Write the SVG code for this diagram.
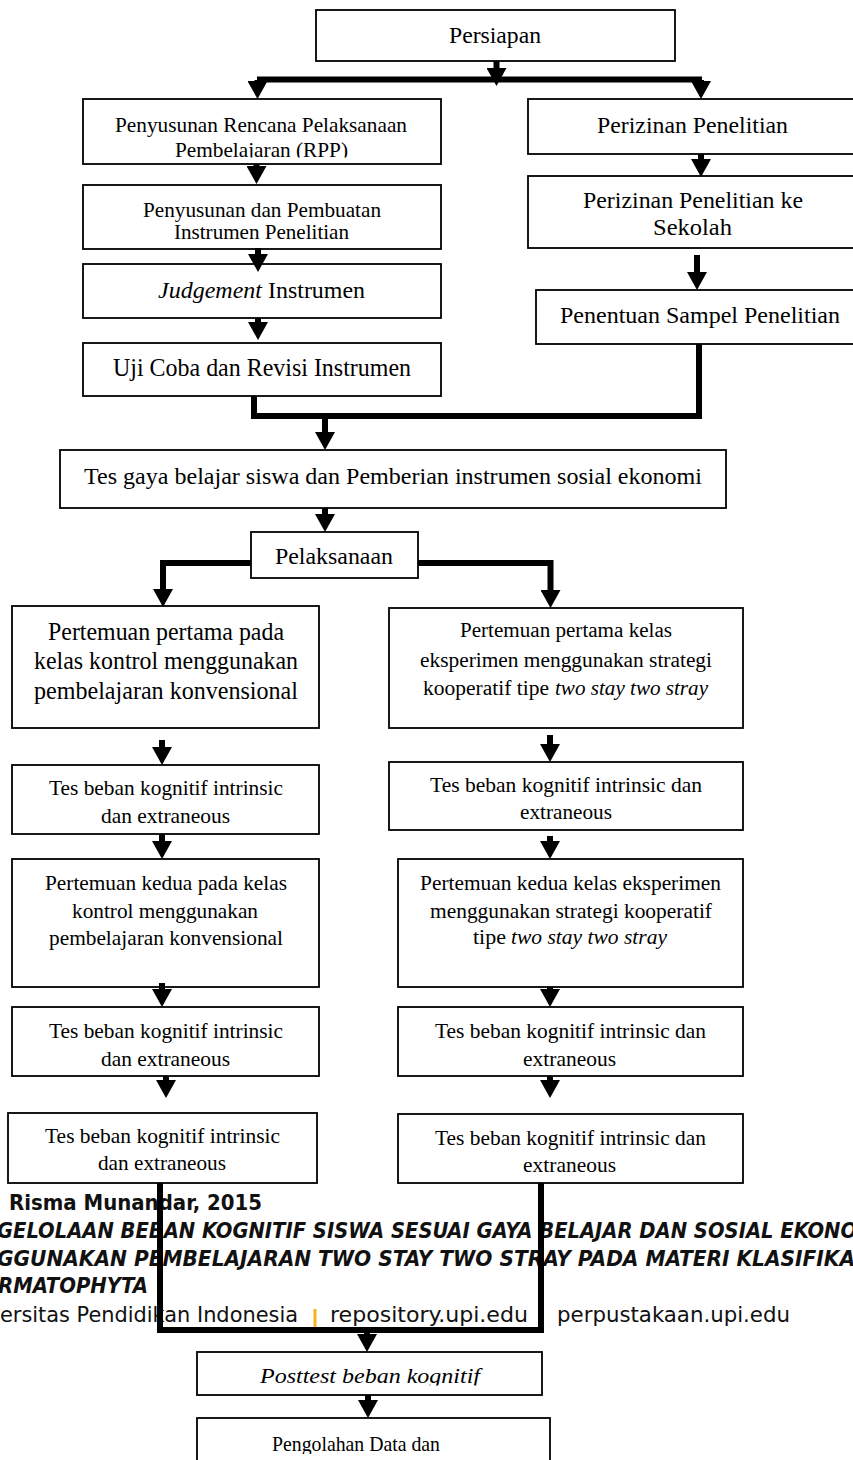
<svg xmlns="http://www.w3.org/2000/svg" width="853" height="1460" viewBox="0 0 853 1460">
<style>
.box{fill:#fff;stroke:#000;stroke-width:1.8}
.t{font-family:"Liberation Serif","Times New Roman",serif;fill:#000}
.it{font-style:italic}
.c{fill:none;stroke:#000;stroke-width:6;stroke-linejoin:miter;stroke-linecap:butt}
.a{marker-end:url(#ah)}
.f{font-family:"DejaVu Sans Condensed","DejaVu Sans",sans-serif;font-stretch:condensed;fill:#111}
.fb{font-weight:bold}
.fi{font-style:italic;font-weight:bold}
</style>
<defs>
<marker id="ah" viewBox="0 0 18 20" markerWidth="18" markerHeight="20" refX="0" refY="10" orient="auto" markerUnits="userSpaceOnUse">
<path d="M0,0 L18,10 L0,20 Z" fill="#000"/>
</marker>
<clipPath id="clipRpp"><rect x="80" y="95" width="365" height="62.5"/></clipPath>
<clipPath id="clipPost"><rect x="190" y="1350" width="360" height="35.5"/></clipPath>
<clipPath id="clipOlah"><rect x="190" y="1415" width="370" height="39"/></clipPath>
</defs>
<rect width="853" height="1460" fill="#fff"/>

<g id="n-persiapan">
<rect class="box" x="316" y="10" width="359" height="51"/>
<text class="t" x="449" y="43" font-size="24" textLength="92" lengthAdjust="spacingAndGlyphs">Persiapan</text>
</g>
<g id="n-rpp">
<rect class="box" x="83" y="99" width="358" height="65"/>
<text class="t" x="115" y="132" font-size="21.5" textLength="292" lengthAdjust="spacingAndGlyphs">Penyusunan Rencana Pelaksanaan</text>
<text class="t" x="175" y="156.5" font-size="21.5" textLength="173" lengthAdjust="spacingAndGlyphs" clip-path="url(#clipRpp)">Pembelajaran (RPP)</text>
</g>
<g id="n-perizinan">
<rect class="box" x="528" y="99" width="340" height="55"/>
<text class="t" x="597" y="133" font-size="23.5" textLength="191" lengthAdjust="spacingAndGlyphs">Perizinan Penelitian</text>
</g>
<g id="n-penyusunan">
<rect class="box" x="83" y="185" width="358" height="64"/>
<text class="t" x="143" y="217" font-size="21.5" textLength="238" lengthAdjust="spacingAndGlyphs">Penyusunan dan Pembuatan</text>
<text class="t" x="174" y="239" font-size="21.5" textLength="175" lengthAdjust="spacingAndGlyphs">Instrumen Penelitian</text>
</g>
<g id="n-sekolah">
<rect class="box" x="528" y="176" width="340" height="72"/>
<text class="t" x="583" y="208" font-size="23.5" textLength="220" lengthAdjust="spacingAndGlyphs">Perizinan Penelitian ke</text>
<text class="t" x="653" y="235" font-size="23.5" textLength="79" lengthAdjust="spacingAndGlyphs">Sekolah</text>
</g>
<g id="n-judgement">
<rect class="box" x="83" y="264" width="358" height="54"/>
<text class="t it" x="158" y="298" font-size="23.5" textLength="104" lengthAdjust="spacingAndGlyphs">Judgement</text>
<text class="t" x="268" y="298" font-size="23.5" textLength="97" lengthAdjust="spacingAndGlyphs">Instrumen</text>
</g>
<g id="n-sampel">
<rect class="box" x="536" y="290" width="332" height="54"/>
<text class="t" x="560" y="323" font-size="23.5" textLength="280" lengthAdjust="spacingAndGlyphs">Penentuan Sampel Penelitian</text>
</g>
<g id="n-ujicoba">
<rect class="box" x="83" y="343" width="358" height="53"/>
<text class="t" x="113" y="376" font-size="24.5" textLength="298" lengthAdjust="spacingAndGlyphs">Uji Coba dan Revisi Instrumen</text>
</g>
<g id="n-tesgaya">
<rect class="box" x="60" y="450" width="666" height="58"/>
<text class="t" x="84" y="484" font-size="23.5" textLength="618" lengthAdjust="spacingAndGlyphs">Tes gaya belajar siswa dan Pemberian instrumen sosial ekonomi</text>
</g>
<g id="n-pelaksanaan">
<rect class="box" x="251" y="532" width="167" height="46"/>
<text class="t" x="275" y="564" font-size="24" textLength="118" lengthAdjust="spacingAndGlyphs">Pelaksanaan</text>
</g>
<g id="n-kontrol1">
<rect class="box" x="12" y="606" width="307" height="122"/>
<text class="t" x="48" y="640" font-size="24.5" textLength="236" lengthAdjust="spacingAndGlyphs">Pertemuan pertama pada</text>
<text class="t" x="34" y="669" font-size="24.5" textLength="264" lengthAdjust="spacingAndGlyphs">kelas kontrol menggunakan</text>
<text class="t" x="34" y="699" font-size="24.5" textLength="264" lengthAdjust="spacingAndGlyphs">pembelajaran konvensional</text>
</g>
<g id="n-eksperimen1">
<rect class="box" x="389" y="608" width="354" height="120"/>
<text class="t" x="460" y="637" font-size="20.5" textLength="212" lengthAdjust="spacingAndGlyphs">Pertemuan pertama kelas</text>
<text class="t" x="420" y="667" font-size="20.5" textLength="292" lengthAdjust="spacingAndGlyphs">eksperimen menggunakan strategi</text>
<text class="t" x="423" y="695" font-size="20.5" textLength="126" lengthAdjust="spacingAndGlyphs">kooperatif tipe</text>
<text class="t it" x="555" y="695" font-size="20.5" textLength="153" lengthAdjust="spacingAndGlyphs">two stay two stray</text>
</g>
<g id="n-kontrol-tes1">
<rect class="box" x="12" y="765" width="307" height="69"/>
<text class="t" x="49" y="795" font-size="21.5" textLength="234" lengthAdjust="spacingAndGlyphs">Tes beban kognitif intrinsic</text>
<text class="t" x="101" y="823" font-size="21.5" textLength="129" lengthAdjust="spacingAndGlyphs">dan extraneous</text>
</g>
<g id="n-eksperimen-tes1">
<rect class="box" x="389" y="762" width="354" height="68"/>
<text class="t" x="430" y="792" font-size="21.5" textLength="272" lengthAdjust="spacingAndGlyphs">Tes beban kognitif intrinsic dan</text>
<text class="t" x="520" y="819" font-size="21.5" textLength="92" lengthAdjust="spacingAndGlyphs">extraneous</text>
</g>
<g id="n-kontrol2">
<rect class="box" x="12" y="859" width="307" height="128"/>
<text class="t" x="45" y="890" font-size="21.5" textLength="242" lengthAdjust="spacingAndGlyphs">Pertemuan kedua pada kelas</text>
<text class="t" x="72" y="918" font-size="21.5" textLength="186" lengthAdjust="spacingAndGlyphs">kontrol menggunakan</text>
<text class="t" x="49" y="945" font-size="21.5" textLength="234" lengthAdjust="spacingAndGlyphs">pembelajaran konvensional</text>
</g>
<g id="n-eksperimen2">
<rect class="box" x="398" y="859" width="345" height="128"/>
<text class="t" x="420" y="890" font-size="21.5" textLength="301" lengthAdjust="spacingAndGlyphs">Pertemuan kedua kelas eksperimen</text>
<text class="t" x="430" y="918" font-size="21.5" textLength="282" lengthAdjust="spacingAndGlyphs">menggunakan strategi kooperatif</text>
<text class="t" x="473" y="944" font-size="21.5" textLength="33" lengthAdjust="spacingAndGlyphs">tipe</text>
<text class="t it" x="511" y="944" font-size="21.5" textLength="156" lengthAdjust="spacingAndGlyphs">two stay two stray</text>
</g>
<g id="n-kontrol-tes2">
<rect class="box" x="12" y="1007" width="307" height="69"/>
<text class="t" x="49" y="1038" font-size="21.5" textLength="234" lengthAdjust="spacingAndGlyphs">Tes beban kognitif intrinsic</text>
<text class="t" x="101" y="1066" font-size="21.5" textLength="129" lengthAdjust="spacingAndGlyphs">dan extraneous</text>
</g>
<g id="n-eksperimen-tes2">
<rect class="box" x="398" y="1007" width="345" height="69"/>
<text class="t" x="435" y="1038" font-size="21.5" textLength="271" lengthAdjust="spacingAndGlyphs">Tes beban kognitif intrinsic dan</text>
<text class="t" x="523" y="1066" font-size="21.5" textLength="93" lengthAdjust="spacingAndGlyphs">extraneous</text>
</g>
<g id="n-kontrol-tes3">
<rect class="box" x="8" y="1113" width="309" height="70"/>
<text class="t" x="45" y="1143" font-size="21.5" textLength="235" lengthAdjust="spacingAndGlyphs">Tes beban kognitif intrinsic</text>
<text class="t" x="98" y="1170" font-size="21.5" textLength="128" lengthAdjust="spacingAndGlyphs">dan extraneous</text>
</g>
<g id="n-eksperimen-tes3">
<rect class="box" x="398" y="1114" width="345" height="69"/>
<text class="t" x="435" y="1145" font-size="21.5" textLength="271" lengthAdjust="spacingAndGlyphs">Tes beban kognitif intrinsic dan</text>
<text class="t" x="523" y="1172" font-size="21.5" textLength="93" lengthAdjust="spacingAndGlyphs">extraneous</text>
</g>
<g id="n-posttest">
<rect class="box" x="197" y="1352" width="345" height="43"/>
<text class="t it" x="260" y="1383" font-size="21.5" textLength="220" lengthAdjust="spacingAndGlyphs" clip-path="url(#clipPost)">Posttest beban kognitif</text>
</g>
<g id="n-pengolahan">
<rect class="box" x="197" y="1418" width="353" height="60"/>
<text class="t" x="272" y="1451" font-size="22" textLength="168" lengthAdjust="spacingAndGlyphs" clip-path="url(#clipOlah)">Pengolahan Data dan</text>
</g>

<g id="footer">
<text class="f fb" x="9" y="1210" font-size="21" textLength="253" lengthAdjust="spacingAndGlyphs">Risma Munandar, 2015</text>
<text class="f fi" x="-3" y="1238" font-size="20.5" textLength="860" lengthAdjust="spacingAndGlyphs">GELOLAAN BEBAN KOGNITIF SISWA SESUAI GAYA BELAJAR DAN SOSIAL EKONO</text>
<text class="f fi" x="-3" y="1266" font-size="20.5" textLength="858" lengthAdjust="spacingAndGlyphs">GGUNAKAN PEMBELAJARAN TWO STAY TWO STRAY PADA MATERI KLASIFIKA</text>
<text class="f fi" x="-2" y="1293" font-size="20.5" textLength="150" lengthAdjust="spacingAndGlyphs">RMATOPHYTA</text>
<text class="f" x="0" y="1322" font-size="20.5" textLength="298" lengthAdjust="spacingAndGlyphs">ersitas Pendidikan Indonesia</text>
<rect x="313.5" y="1309" width="3" height="18" fill="#f4b519"/>
<text class="f" x="330" y="1322" font-size="20.5" textLength="198" lengthAdjust="spacingAndGlyphs">repository.upi.edu</text>
<text class="f" x="557" y="1322" font-size="20.5" textLength="233" lengthAdjust="spacingAndGlyphs">perpustakaan.upi.edu</text>
</g>

<g id="connectors">
<path class="c a" d="M496.5,61 V68"/>
<path class="c" d="M257,79.5 H702" stroke-width="5.5"/>
<path class="c a" d="M257.5,80 V81"/>
<path class="c a" d="M701,80 V81"/>
<path class="c a" d="M256.5,164 V166"/>
<path class="c a" d="M258,248 V254"/>
<path class="c a" d="M258,318 V322"/>
<path class="c a" d="M701,154 V159"/>
<path class="c a" d="M697,255 V272"/>
<path class="c" d="M254,396 V416 H699 V344"/>
<path class="c a" d="M325,419 V432"/>
<path class="c a" d="M325,508 V514"/>
<path class="c a" d="M251,563 H163 V589"/>
<path class="c a" d="M418,563 H550.5 V590"/>
<path class="c a" d="M162,740 V747"/>
<path class="c a" d="M550,735 V744"/>
<path class="c a" d="M162,834 V841"/>
<path class="c a" d="M550,836 V841"/>
<path class="c a" d="M162,983 V989"/>
<path class="c a" d="M550,987 V989"/>
<path class="c a" d="M166,1076 V1080"/>
<path class="c a" d="M550,1076 V1080"/>
<path class="c" d="M160,1183 V1330 H541 V1183"/>
<path class="c a" d="M367,1333 V1334"/>
<path class="c a" d="M368,1395 V1400"/>
</g>
</svg>
